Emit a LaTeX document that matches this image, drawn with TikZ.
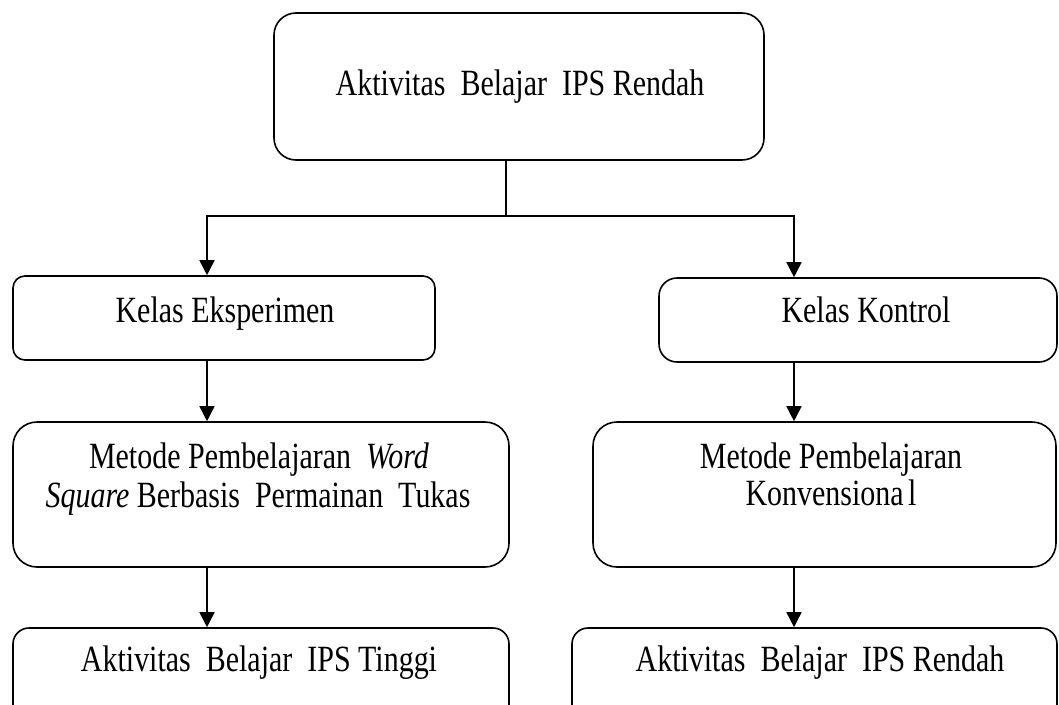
\documentclass[tikz,border=0pt]{standalone}
\usepackage{fontspec}
\setmainfont{Liberation Serif}[FakeStretch=0.81]
\usetikzlibrary{arrows.meta}
\begin{document}
\begin{tikzpicture}[x=1pt,y=-1pt,
  box/.style={draw, line width=1.6pt, rounded corners=#1, inner sep=0pt},
  box/.default=18pt,
  lbl/.style={font=\fontsize{37}{40}\selectfont, anchor=base, inner sep=0pt},
  ln/.style={line width=1.6pt},
  arr/.style={line width=1.6pt, -{Triangle[width=15pt,length=15pt]}}]
\useasboundingbox (0,0) rectangle (1059,704);
\clip (0,0) rectangle (1059,704);
% boxes
\node[box=22pt, minimum width=490pt, minimum height=147pt] (top) at (519,86.5) {};
\node[box=12pt, minimum width=422pt, minimum height=84pt] (kelasE) at (224,318) {};
\node[box=18pt, minimum width=398pt, minimum height=84pt] (kelasK) at (858,320) {};
\node[box=24pt, minimum width=496pt, minimum height=145pt] (metE) at (261,494.5) {};
\node[box=24pt, minimum width=463pt, minimum height=145pt] (metK) at (824.5,494.5) {};
\node[box=16pt, minimum width=496pt, minimum height=102pt] (akE) at (261,679) {};
\node[box=16pt, minimum width=485pt, minimum height=102pt] (akK) at (814.5,679) {};
% texts
\node[lbl] (tTop) at (520,95) {Aktivitas~~Belajar~~IPS Rendah};
\node[lbl] (tKE) at (225,322) {Kelas Eksperimen};
\node[lbl] (tKK) at (866,322) {Kelas Kontrol};
\node[lbl] (tME1) at (259,468) {Metode Pembelajaran~~\textit{Word}};
\node[lbl] (tME2) at (258,507) {\textit{Square} Berbasis~~Permainan~~Tukas};
\node[lbl] (tMK1) at (831,468) {Metode Pembelajaran};
\node[lbl] (tMK2) at (831,505) {Konvensiona\kern0.12em l};
\node[lbl] (tAE) at (259,671) {Aktivitas~~Belajar~~IPS Tinggi};
\node[lbl] (tAK) at (820,671) {Aktivitas~~Belajar~~IPS Rendah};
% connectors
\coordinate (split) at (506,216);
\coordinate (jl) at (207,216);
\coordinate (jr) at (794,216);
\draw[ln] (top.south -| split) -- (split);
\draw[arr] (split) -- (jl) -- (jl |- kelasE.north);
\draw[arr] (split) -- (jr) -- (jr |- kelasK.north);
\draw[arr] (kelasE.south -| jl) -- (metE.north -| jl);
\draw[arr] (kelasK.south -| jr) -- (metK.north -| jr);
\draw[arr] (metE.south -| jl) -- (akE.north -| jl);
\draw[arr] (metK.south -| jr) -- (akK.north -| jr);
\end{tikzpicture}
\end{document}
